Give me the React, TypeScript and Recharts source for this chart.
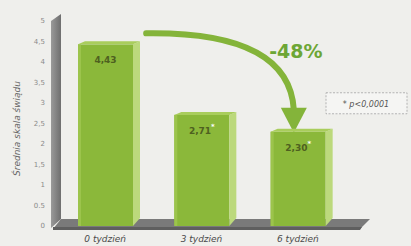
import React from "react";
import { BarChart, Bar, XAxis, YAxis, ReferenceArea, LabelList } from "recharts";

const categories = ["0 tydzień", "3 tydzień", "6 tydzień"];
const values = [4.43, 2.71, 2.3];
const valueLabels = ["4,43", "2,71", "2,30"];
const significant = [false, true, true];
const yTicks = [0, 0.5, 1, 1.5, 2, 2.5, 3, 3.5, 4, 4.5, 5];
const yTickLabels = ["0", "0.5", "1", "1,5", "2", "2,5", "3", "3,5", "4", "4,5", "5"];
const changeLabel = "-48%";
const noteLabel = "* p<0,0001";
const yTitle = "Średnia skala świądu";

const data = categories.map((c, i) => ({ name: c, value: values[i], label: valueLabels[i], sig: significant[i] }));

const FONT = "'DejaVu Sans', Verdana, sans-serif";
const DEPTH = 7;
const DY = 3;

const Bar3D = (props: any) => {
  const { x, y, width, height } = props;
  const fw = width - DEPTH;
  return (
    <g>
      <rect x={x} y={y} width={fw} height={height} fill="#8bb83a" />
      <rect x={x} y={y} width={3} height={height} fill="#9cc44c" />
      <polygon
        points={`${x + fw},${y} ${x + width},${y - DY} ${x + width},${y + height - 8} ${x + fw},${y + height}`}
        fill="#bcd97c"
      />
      <polygon
        points={`${x},${y} ${x + fw},${y} ${x + width},${y - DY} ${x + DEPTH},${y - DY}`}
        fill="#a9cd5c"
      />
    </g>
  );
};

const Backdrop = (props: any) => {
  const { x, y, width, height } = props;
  const bottom = y + height;
  return (
    <g>
      <defs>
        <linearGradient id="wallG" x1="0" y1="0" x2="1" y2="0">
          <stop offset="0" stopColor="#9a9a9a" />
          <stop offset="1" stopColor="#6e6e6e" />
        </linearGradient>
      </defs>
      <polygon
        points={`${x - 10},${y} ${x},${y - 7} ${x},${bottom - 7} ${x - 10},${bottom + 2}`}
        fill="url(#wallG)"
      />
      <polygon
        points={`${x},${bottom - 7} ${x + width + 20},${bottom - 7} ${x + width + 10},${bottom + 3} ${x - 8},${bottom + 3}`}
        fill="#7a7a7a"
      />
      <polygon
        points={`${x - 8},${bottom + 1} ${x + width + 12},${bottom + 1} ${x + width + 10},${bottom + 4} ${x - 8},${bottom + 4}`}
        fill="#5f5f5f"
      />
    </g>
  );
};

const Overlay = (props: any) => {
  const { x, y, width, height } = props;
  const band = width / categories.length;
  const yOf = (v: number) => y + height * (1 - v / 5);
  const c0 = x + band * 0.5 - 3;
  const c2 = x + band * 2.5 - 8;
  const sx = c0 + 40;
  const sy = yOf(values[0]) - 11;
  const ex = c2;
  const headTop = yOf(values[2]) - 24;
  const tip = yOf(values[2]) + 1;
  return (
    <g>
      <path
        d={`M ${sx} ${sy} Q ${ex - 5} ${sy - 2} ${ex} ${headTop + 2}`}
        fill="none"
        stroke="#84b43a"
        strokeWidth={6}
        strokeLinecap="round"
      />
      <polygon points={`${ex - 13},${headTop} ${ex + 13},${headTop} ${ex},${tip}`} fill="#84b43a" />
      <text
        x={x + band * 2.5 - 6}
        y={yOf(4.1)}
        textAnchor="middle"
        fontFamily={FONT}
        fontWeight="bold"
        fontSize={19}
        fill="#6da635"
      >
        {changeLabel}
      </text>
      <rect
        x={x + width - 24}
        y={yOf(3.25)}
        width={81}
        height={21}
        fill="#f5f5f3"
        stroke="#9a9a9a"
        strokeWidth={0.7}
        strokeDasharray="2 1.5"
      />
      <text
        x={x + width + 16}
        y={yOf(3.25) + 14}
        textAnchor="middle"
        fontFamily={FONT}
        fontStyle="italic"
        fontSize={8}
        fill="#555"
      >
        {noteLabel}
      </text>
    </g>
  );
};

const ValueLabel = (props: any) => {
  const { x, y, width, index } = props;
  const cx = x + (width - DEPTH) / 2;
  const sig = significant[index];
  return (
    <text x={cx} y={y + 19} textAnchor="middle" fontFamily={FONT} fontWeight="bold" fontSize={9} fill="#4e6020">
      {valueLabels[index]}
      {sig ? (
        <tspan dy={-5} fontSize={7} fill="#fff">
          *
        </tspan>
      ) : null}
    </text>
  );
};

const YTitle = (props: any) => {
  const vb = props.viewBox || {};
  const cx = 20;
  const cy = (vb.y || 0) + (vb.height || 0) / 2 + 5;
  return (
    <text
      x={cx}
      y={cy}
      transform={`rotate(-90 ${cx} ${cy})`}
      textAnchor="middle"
      fontFamily={FONT}
      fontStyle="italic"
      fontSize={9}
      fill="#666"
    >
      {yTitle}
    </text>
  );
};

export default function App() {
  return (
    <div style={{ position: "absolute", left: 0, top: 0, width: 411, height: 246, background: "#efefec" }}>
      <BarChart width={411} height={246} data={data} margin={{ top: 21, right: 61, bottom: 0, left: 0 }}>
        <XAxis
          dataKey="name"
          height={20}
          axisLine={false}
          tickLine={false}
          tickMargin={4}
          tick={{ fontFamily: FONT, fontStyle: "italic", fontSize: 9, fill: "#4a4a4a", dx: -4 }}
          interval={0}
        />
        <YAxis
          type="number"
          domain={[0, 5]}
          ticks={yTicks}
          tickFormatter={(v: number) => yTickLabels[yTicks.indexOf(v)]}
          width={61}
          axisLine={false}
          tickLine={false}
          tickSize={0}
          tickMargin={16}
          interval={0}
          tick={{ fontFamily: FONT, fontSize: 7, fill: "#8a8a8a" }}
          label={<YTitle />}
        />
        <ReferenceArea y1={0} y2={5} ifOverflow="visible" shape={<Backdrop />} />
        <Bar dataKey="value" barSize={62} shape={<Bar3D />} isAnimationActive={false}>
          <LabelList dataKey="value" content={<ValueLabel />} />
        </Bar>
        <ReferenceArea y1={0} y2={5} ifOverflow="visible" shape={<Overlay />} />
      </BarChart>
    </div>
  );
}
